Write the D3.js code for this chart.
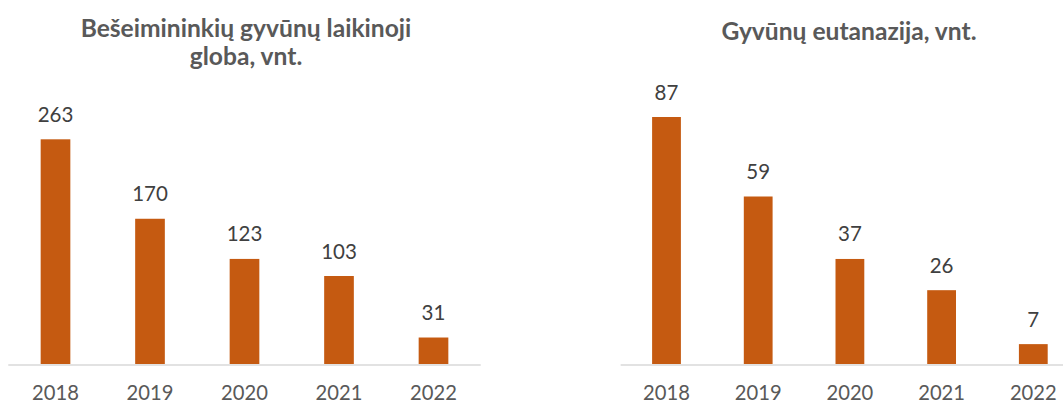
<!DOCTYPE html>
<html><head><meta charset="utf-8">
<script src="https://cdn.jsdelivr.net/npm/d3@7"></script>
<style>
html,body{margin:0;padding:0;background:#fff;}
svg{display:block;}
text{font-family:Lato,"Open Sans",sans-serif;}
</style></head>
<body>
<svg id="c" width="1063" height="403"></svg>
<script>
const years = ["2018","2019","2020","2021","2022"];
const fosterValues = [263,170,123,103,31];
const euthanasiaValues = [87,59,37,26,7];
const fosterTitle = ["Bešeimininkių gyvūnų laikinoji","globa, vnt."];
const euthanasiaTitle = ["Gyvūnų eutanazija, vnt."];

const svg = d3.select("#c");
const barColor = "#C55A11";

function drawChart(cfg){
  const g = svg.append("g");
  const x = d3.scaleBand().domain(years).range(cfg.xRange).paddingInner(0.686).paddingOuter(0.343);
  const y = d3.scaleLinear().domain(cfg.yDomain).range(cfg.yRange);
  const data = years.map((yr,i)=>({yr, v: cfg.values[i]}));
  g.selectAll("rect").data(data).enter().append("rect")
    .attr("x", d=>x(d.yr)).attr("width", x.bandwidth())
    .attr("y", d=>y(d.v)).attr("height", d=>y(0)-y(d.v))
    .attr("fill", barColor);
  // axis line
  g.append("line").attr("x1", cfg.xRange[0]).attr("x2", Math.min(cfg.xRange[1],1063))
    .attr("y1", y(0)+1).attr("y2", y(0)+1).attr("stroke","#D9D9D9").attr("stroke-width",1.6);
  // value labels
  g.selectAll("text.val").data(data).enter().append("text").attr("class","val")
    .attr("x", d=>x(d.yr)+x.bandwidth()/2).attr("y", d=>y(d.v)-17.5)
    .attr("text-anchor","middle").attr("font-size",20.5).attr("fill","#404040")
    .text(d=>d.v);
  // tick labels
  const ax = g.append("g").attr("transform",`translate(0,${y(0)})`)
    .call(d3.axisBottom(x).tickSize(0).tickPadding(0));
  ax.select(".domain").remove();
  ax.selectAll("text").attr("dy",null).attr("y",35.5).attr("font-size",20.2)
    .attr("fill","#595959").attr("font-family","Lato,'Open Sans',sans-serif");
  // title
  const t = g.append("text").attr("text-anchor","middle").attr("font-weight","bold")
    .attr("font-size",cfg.titleSize).attr("fill","#595959");
  cfg.title.forEach((line,i)=>{
    t.append("tspan").attr("x",cfg.titleX).attr("y",cfg.titleY + i*27.5).text(line);
  });
}

drawChart({values:fosterValues, xRange:[8.25,480.75], yDomain:[0,300], yRange:[364,107.7],
  title:fosterTitle, titleX:246, titleY:37, titleSize:24.6});
drawChart({values:euthanasiaValues, xRange:[620.65,1079.15], yDomain:[0,100], yRange:[364,80.1],
  title:euthanasiaTitle, titleX:849, titleY:39.5, titleSize:24.6});
</script>
</body></html>
